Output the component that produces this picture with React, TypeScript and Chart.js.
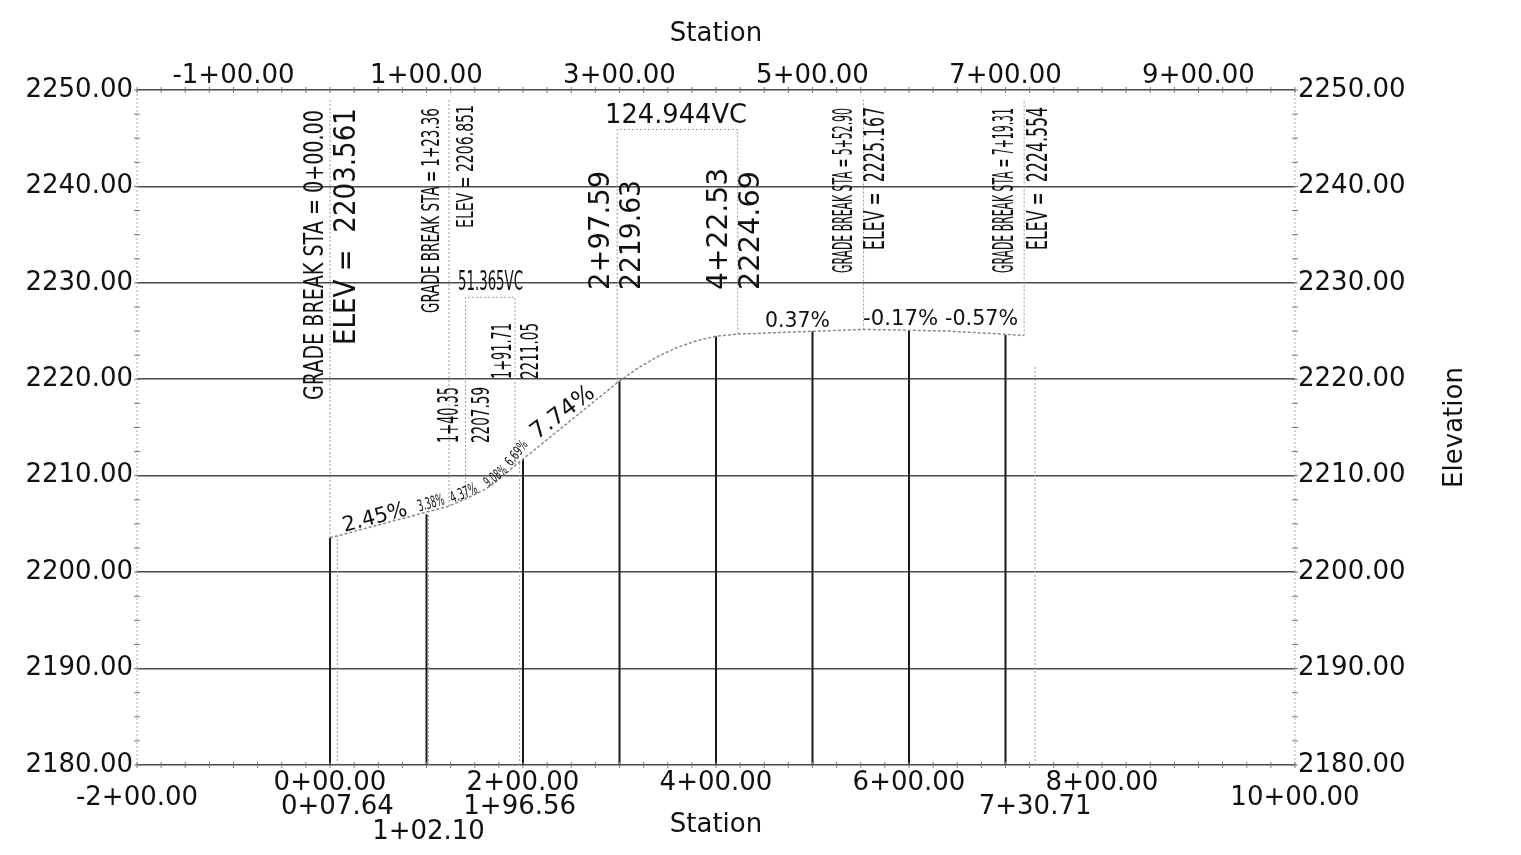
import React, { useEffect, useRef } from 'react';
import { Chart, registerables } from 'chart.js';
Chart.register(...registerables);

const FONT = '"DejaVu Sans", Verdana, sans-serif';

// ---------- data ----------
const profileSta = [0, 123.36, 140.35, 150, 160, 170, 180, 191.71, 297.59, 320, 340, 360, 380, 400, 422.53, 552.9, 600, 640, 680, 719.31];
const profileElev = [2203.56, 2206.85, 2207.59, 2208.05, 2208.55, 2209.2, 2210.05, 2211.05, 2219.63, 2221.22, 2222.38, 2223.31, 2224.01, 2224.46, 2224.69, 2225.17, 2225.09, 2225.0, 2224.78, 2224.55];

const stationLineSta = [0, 100, 200, 300, 400, 500, 600, 700];
const stationLineElev = [2203.56, 2206.0, 2211.7, 2219.8, 2224.46, 2224.98, 2225.09, 2224.6];

const extraSta = [7.64, 102.1, 196.56, 730.71];
const extraTopElev = [2203.75, 2206.1, 2211.4, 2221.3];

const gradeBreakSta = [0, 123.36, 552.9, 719.31];
const gradeBreakElev = [2203.561, 2206.851, 2225.167, 2224.554];
const gradeBreakTopElev = [2249, 2249, 2249, 2249];

const vcLength = [51.365, 124.944];
const bvcSta = [140.35, 297.59];
const bvcElev = [2207.59, 2219.63];
const evcSta = [191.71, 422.53];
const evcElev = [2211.05, 2224.69];
const vcBoxTopElev = [2228.5, 2245.9];

const grades = [2.45, 3.38, 4.37, 9.08, 6.69, 7.74, 0.37, -0.17, -0.57];

const bottomTickSta = [0, 200, 400, 600, 800];
const bottomEndSta = [-200, 1000];
const topTickSta = [-100, 100, 300, 500, 700, 900];
const elevTicks = [2180, 2190, 2200, 2210, 2220, 2230, 2240, 2250];

// ---------- helpers ----------
function fmtSta(v: number): string {
  const sign = v < 0 ? '-' : '';
  const a = Math.abs(v);
  const h = Math.floor(a / 100 + 1e-9);
  const r = a - h * 100;
  return `${sign}${h}+${r.toFixed(2).padStart(5, '0')}`;
}
const fmtGrade = (g: number) => `${g.toFixed(2)}%`;

type Pt = { x: number; y: number | null };
function segments(list: Pt[][]): Pt[] {
  const out: Pt[] = [];
  list.forEach((seg) => {
    seg.forEach((p) => out.push(p));
    out.push({ x: seg[seg.length - 1].x, y: null });
  });
  return out;
}

const stationLines = segments(stationLineSta.map((s, i) => [{ x: s, y: 2180 }, { x: s, y: stationLineElev[i] }]));
const extraLines = segments(extraSta.map((s, i) => [{ x: s, y: 2180 }, { x: s, y: extraTopElev[i] }]));
const breakLines = segments(gradeBreakSta.map((s, i) => [{ x: s, y: gradeBreakElev[i] }, { x: s, y: gradeBreakTopElev[i] }]));
const vcBoxes = segments(vcLength.map((_, i) => [
  { x: bvcSta[i], y: bvcElev[i] },
  { x: bvcSta[i], y: vcBoxTopElev[i] },
  { x: evcSta[i], y: vcBoxTopElev[i] },
  { x: evcSta[i], y: evcElev[i] },
]));
const profile = profileSta.map((s, i) => ({ x: s, y: profileElev[i] }));

// ---------- annotation layout (data coordinates) ----------
const rotLabels = [
  { text: `GRADE BREAK STA = ${fmtSta(gradeBreakSta[0])}`, sta: -14.5, lo: 2217.85, hi: 2247.92, size: 27 },
  { text: `ELEV =  ${gradeBreakElev[0].toFixed(3)}`, sta: 17.6, lo: 2223.56, hi: 2248.13, size: 30 },
  { text: `GRADE BREAK STA = ${fmtSta(gradeBreakSta[1])}`, sta: 106.7, lo: 2226.87, hi: 2248.13, size: 25 },
  { text: `ELEV = ${gradeBreakElev[1].toFixed(3)}`, sta: 142.0, lo: 2235.69, hi: 2248.44, size: 23 },
  { text: fmtSta(bvcSta[0]), sta: 125.4, lo: 2213.39, hi: 2219.2, size: 28 },
  { text: bvcElev[0].toFixed(2), sta: 158.5, lo: 2213.39, hi: 2219.2, size: 25 },
  { text: fmtSta(evcSta[0]), sta: 180.3, lo: 2220.03, hi: 2225.84, size: 26 },
  { text: evcElev[0].toFixed(2), sta: 208.3, lo: 2220.03, hi: 2225.84, size: 25 },
  { text: fmtSta(bvcSta[1]), sta: 280.8, lo: 2229.26, hi: 2241.61, size: 29 },
  { text: bvcElev[1].toFixed(2), sta: 314.0, lo: 2229.26, hi: 2240.67, size: 28 },
  { text: fmtSta(evcSta[1]), sta: 404.1, lo: 2229.26, hi: 2241.92, size: 28 },
  { text: evcElev[1].toFixed(2), sta: 437.3, lo: 2229.26, hi: 2241.61, size: 28 },
  { text: `GRADE BREAK STA = ${fmtSta(gradeBreakSta[2])}`, sta: 533.7, lo: 2231.02, hi: 2248.13, size: 27 },
  { text: `ELEV =  ${gradeBreakElev[2].toFixed(3)}`, sta: 566.8, lo: 2233.41, hi: 2248.24, size: 29 },
  { text: `GRADE BREAK STA = ${fmtSta(gradeBreakSta[3])}`, sta: 700.5, lo: 2231.02, hi: 2248.13, size: 28 },
  { text: `ELEV =  ${gradeBreakElev[3].toFixed(3)}`, sta: 734.7, lo: 2233.41, hi: 2248.24, size: 29 },
];

const hLabels = [
  { text: `${vcLength[0].toFixed(3)}VC`, l: 132.6, r: 200.0, elev: 2229.98, size: 26 },
  { text: `${vcLength[1].toFixed(3)}VC`, l: 285.0, r: 432.1, elev: 2247.3, size: 26 },
  { text: fmtGrade(grades[6]), l: 450.8, r: 518.1, elev: 2225.94, size: 21 },
  { text: fmtGrade(grades[7]), l: 552.3, r: 630.1, elev: 2226.16, size: 21 },
  { text: fmtGrade(grades[8]), l: 637.3, r: 713.0, elev: 2226.16, size: 21 },
];

const slopeLabels = [
  { text: fmtGrade(grades[0]), sta: 46.6, elev: 2205.6, angle: -15, size: 21, len: 66 },
  { text: fmtGrade(grades[1]), sta: 104.7, elev: 2207.1, angle: -16, size: 16, len: 27 },
  { text: fmtGrade(grades[2]), sta: 138.9, elev: 2208.1, angle: -22, size: 16, len: 28 },
  { text: fmtGrade(grades[3]), sta: 172.0, elev: 2209.9, angle: -38, size: 14, len: 25 },
  { text: fmtGrade(grades[4]), sta: 193.8, elev: 2212.3, angle: -52, size: 14, len: 28 },
  { text: fmtGrade(grades[5]), sta: 241.5, elev: 2216.5, angle: -37, size: 23, len: 74 },
];

const extraRow = [1, 2, 1, 1];

function fitText(ctx: CanvasRenderingContext2D, text: string, cx: number, cy: number, len: number, size: number, angle: number) {
  ctx.save();
  ctx.translate(cx, cy);
  ctx.rotate(angle);
  ctx.font = `${size}px ${FONT}`;
  const w = ctx.measureText(text).width;
  ctx.scale(len / w, 1);
  ctx.textAlign = 'center';
  ctx.textBaseline = 'middle';
  ctx.fillText(text, 0, 0);
  ctx.restore();
}

const annotPlugin = {
  id: 'annot',
  beforeDatasetsDraw(chart: any) {
    const { ctx, chartArea: ca } = chart;
    ctx.save();
    ctx.strokeStyle = '#aaa';
    ctx.lineWidth = 1;
    ctx.setLineDash([2, 2]);
    ctx.beginPath();
    ctx.moveTo(ca.left, ca.top); ctx.lineTo(ca.left, ca.bottom);
    ctx.moveTo(ca.right, ca.top); ctx.lineTo(ca.right, ca.bottom);
    ctx.stroke();
    ctx.restore();
  },
  afterDatasetsDraw(chart: any) {
    const { ctx, chartArea: ca } = chart;
    const xs = chart.scales.x;
    const ys = chart.scales.y;
    const X = (v: number) => xs.getPixelForValue(v);
    const Y = (v: number) => ys.getPixelForValue(v);
    ctx.save();
    // minor ticks
    ctx.strokeStyle = '#777';
    ctx.lineWidth = 1;
    ctx.beginPath();
    for (let s = -200; s <= 1000; s += 25) {
      const px = X(s);
      ctx.moveTo(px, ca.bottom - 3); ctx.lineTo(px, ca.bottom + 3);
      ctx.moveTo(px, ca.top - 3); ctx.lineTo(px, ca.top + 3);
    }
    for (let e = 2180; e <= 2250; e += 2.5) {
      const py = Y(e);
      ctx.moveTo(ca.left - 3, py); ctx.lineTo(ca.left + 3, py);
      ctx.moveTo(ca.right - 3, py); ctx.lineTo(ca.right + 3, py);
    }
    ctx.stroke();

    ctx.fillStyle = '#111';
    rotLabels.forEach((r) => {
      const y1 = Y(r.lo), y2 = Y(r.hi);
      fitText(ctx, r.text, X(r.sta), (y1 + y2) / 2, y1 - y2, r.size, -Math.PI / 2);
    });
    hLabels.forEach((h) => {
      const x1 = X(h.l), x2 = X(h.r);
      fitText(ctx, h.text, (x1 + x2) / 2, Y(h.elev), x2 - x1, h.size, 0);
    });
    slopeLabels.forEach((s) => {
      fitText(ctx, s.text, X(s.sta), Y(s.elev), s.len, s.size, (s.angle * Math.PI) / 180);
    });

    // bottom extra station labels
    ctx.font = `26px ${FONT}`;
    ctx.textAlign = 'center';
    ctx.textBaseline = 'middle';
    bottomEndSta.forEach((s) => ctx.fillText(fmtSta(s), X(s), ca.bottom + 33));
    extraSta.forEach((s, i) => ctx.fillText(fmtSta(s), X(s), ca.bottom + 17 + 25 * extraRow[i]));

    // right axis title
    ctx.save();
    ctx.translate(ca.right + 160, (ca.top + ca.bottom) / 2);
    ctx.rotate(-Math.PI / 2);
    ctx.fillText('Elevation', 0, 0);
    ctx.restore();
    ctx.restore();
  },
};

export default function App() {
  const ref = useRef<HTMLCanvasElement>(null);
  useEffect(() => {
    document.body.style.margin = '0';
    const canvas = ref.current!;
    const tickFont = { family: FONT, size: 26 };
    const topFont = { family: FONT, size: 26, lineHeight: 1.05 };
    const setTicks = (arr: number[]) => (s: any) => {
      s.ticks = arr.map((v) => ({ value: v }));
    };
    const chart = new Chart(canvas, {
      type: 'line',
      data: {
        datasets: [
          { data: profile as any, borderColor: '#8a8a8a', borderWidth: 1.5, borderDash: [3, 2], pointRadius: 0, xAxisID: 'x', yAxisID: 'y' },
          { data: stationLines as any, borderColor: '#1a1a1a', borderWidth: 2, pointRadius: 0, spanGaps: false, xAxisID: 'x', yAxisID: 'y' },
          { data: extraLines as any, borderColor: '#9a9a9a', borderWidth: 1, borderDash: [2, 2], pointRadius: 0, spanGaps: false, xAxisID: 'x', yAxisID: 'y' },
          { data: breakLines as any, borderColor: '#9a9a9a', borderWidth: 1, borderDash: [2, 2], pointRadius: 0, spanGaps: false, xAxisID: 'x', yAxisID: 'y' },
          { data: vcBoxes as any, borderColor: '#9a9a9a', borderWidth: 1, borderDash: [2, 2], pointRadius: 0, spanGaps: false, xAxisID: 'x', yAxisID: 'y' },
        ],
      },
      options: {
        responsive: false,
        animation: false,
        events: [],
        layout: { padding: 0 },
        plugins: { legend: { display: false }, tooltip: { enabled: false }, title: { display: false } },
        scales: {
          x: {
            type: 'linear', position: 'bottom', min: -200, max: 1000,
            afterBuildTicks: setTicks(bottomTickSta),
            afterFit: (s: any) => { s.height = 90; },
            grid: { display: false, drawTicks: false },
            border: { display: false },
            ticks: { font: tickFont, color: '#111', padding: 3, autoSkip: false, maxRotation: 0, callback: (v: any) => fmtSta(Number(v)) },
            title: { display: true, text: 'Station', font: tickFont, color: '#111', padding: { top: 14, bottom: 14 } },
          },
          x2: {
            type: 'linear', position: 'top', min: -200, max: 1000,
            afterBuildTicks: setTicks(topTickSta),
            afterFit: (s: any) => { s.height = 90; },
            grid: { display: false, drawTicks: false },
            border: { display: false },
            ticks: { font: topFont, color: '#111', padding: 0, autoSkip: false, maxRotation: 0, callback: (v: any) => fmtSta(Number(v)) },
            title: { display: true, text: 'Station', font: tickFont, color: '#111', padding: { top: 19, bottom: 19 } },
          },
          y: {
            type: 'linear', position: 'left', min: 2180, max: 2250,
            afterBuildTicks: setTicks(elevTicks),
            afterFit: (s: any) => { s.width = 137; },
            grid: { display: true, color: '#4a4a4a', lineWidth: 1.6, drawTicks: false },
            border: { display: false },
            ticks: { font: tickFont, color: '#111', padding: 4, callback: (v: any) => Number(v).toFixed(2) },
          },
          y2: {
            type: 'linear', position: 'right', min: 2180, max: 2250,
            afterBuildTicks: setTicks(elevTicks),
            afterFit: (s: any) => { s.width = 226; },
            grid: { display: false, drawTicks: false },
            border: { display: false },
            ticks: { font: tickFont, color: '#111', padding: 3, callback: (v: any) => Number(v).toFixed(2) },
          },
        },
      } as any,
      plugins: [annotPlugin],
    });
    return () => chart.destroy();
  }, []);
  return (
    <div style={{ width: 1521, height: 855, background: '#fff' }}>
      <canvas ref={ref} width={1521} height={855} style={{ display: 'block', width: 1521, height: 855 }} />
    </div>
  );
}
